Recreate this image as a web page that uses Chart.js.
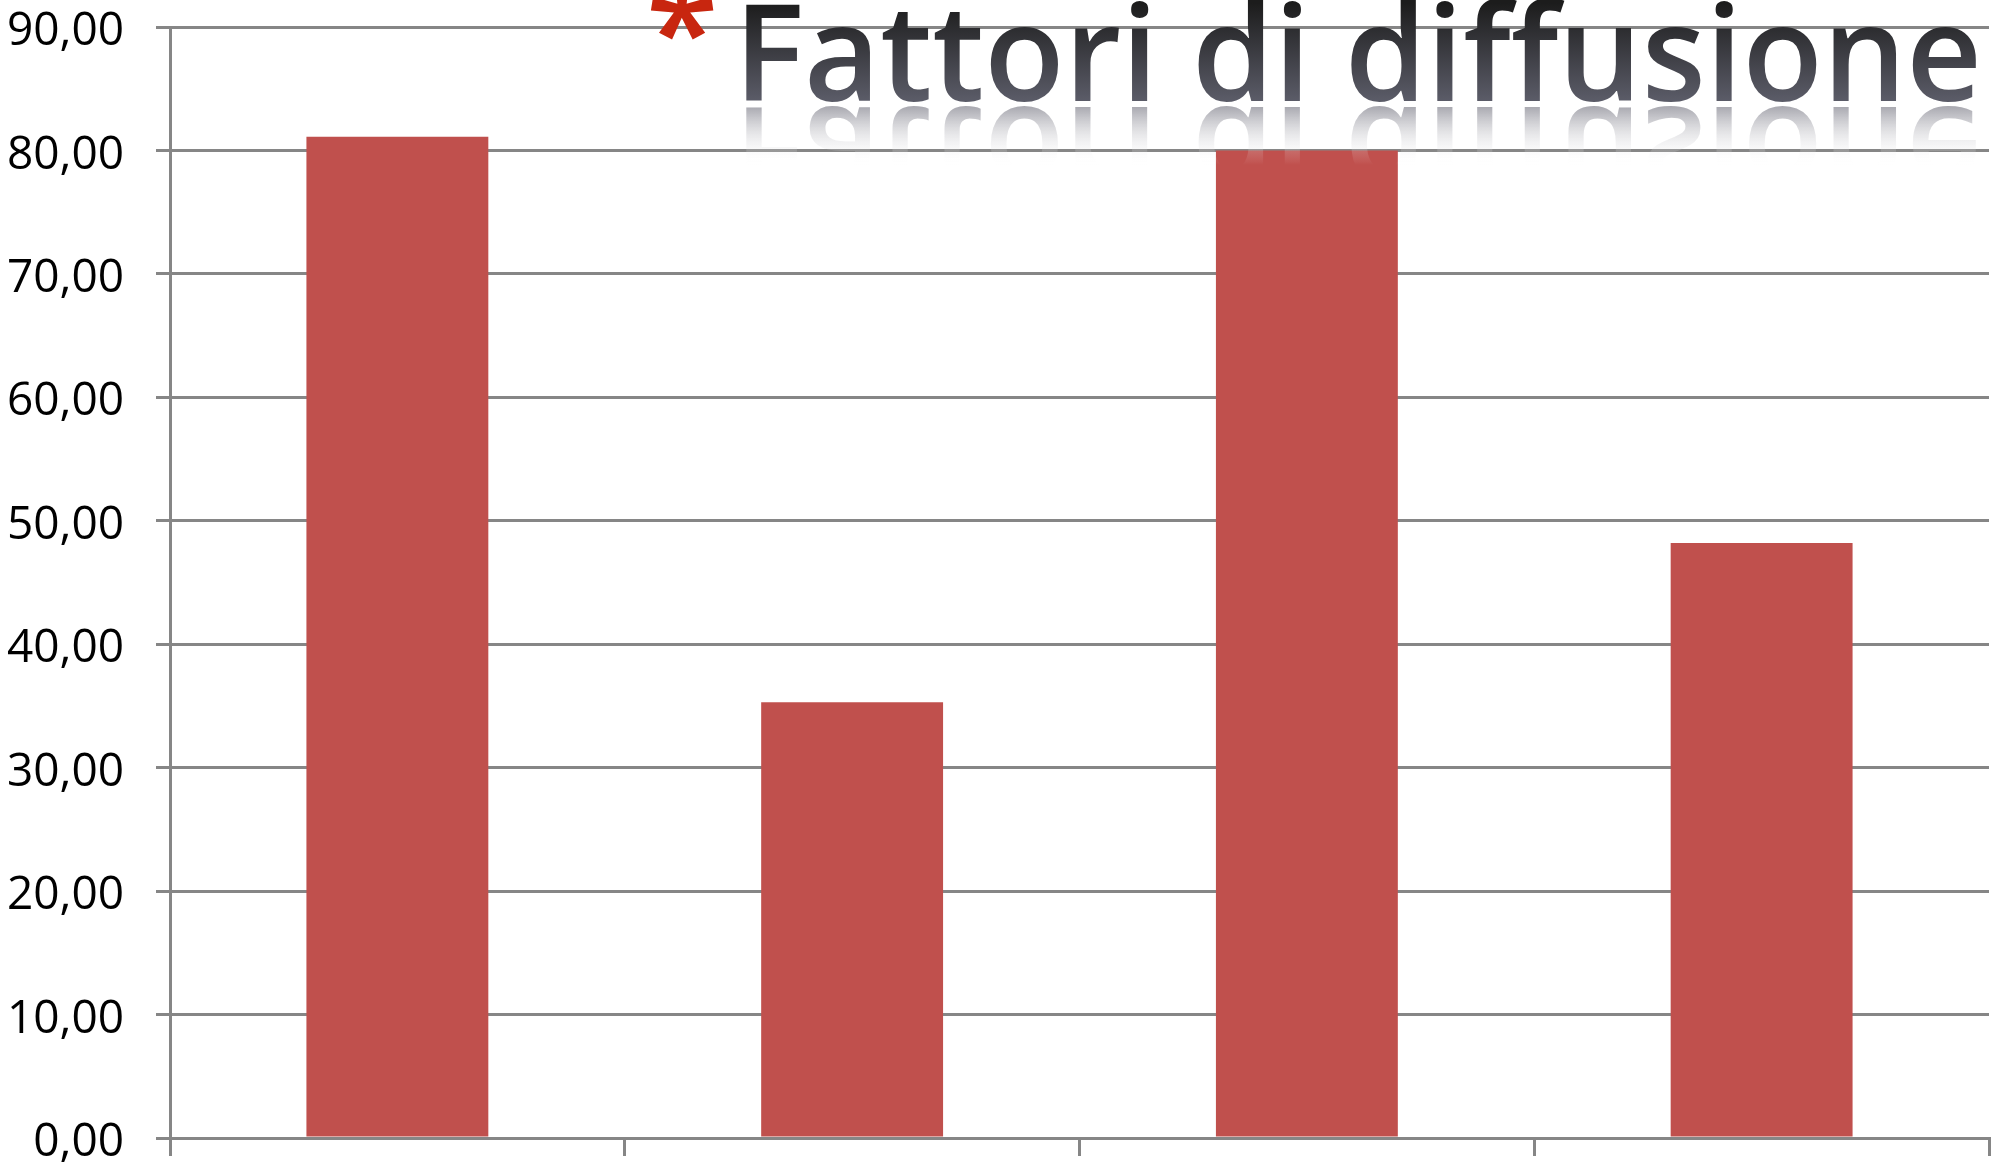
<!DOCTYPE html>
<html lang="it">
<head>
    <meta charset="UTF-8">
    <title>Fattori di diffusione</title>
    <script src="https://cdn.jsdelivr.net/npm/chart.js"></script>
    <style>
        html, body { margin: 0; padding: 0; background: #fff; }
        .wrap { width: 2002px; height: 1171px; position: relative; }
    </style>
</head>
<body>
    <div class="wrap"><canvas id="chart"></canvas></div>
    <script>
        // data
        const categories = ['', '', '', ''];
        const values = [81.1, 35.3, 80.0, 48.2];
        const yMin = 0;
        const yMax = 90;
        const yStep = 10;
        const titleMark = '*';
        const titleText = 'Fattori di diffusione';

        const gridColor = '#868686';

        // big title with reflection, sitting over the top right of the plot
        const titlePlugin = {
            id: 'titleReflect',
            afterDraw(chart) {
                const ctx = chart.ctx;
                const left = 734, right = 1982, baseline = 101;
                ctx.save();
                ctx.font = '600 134px "Open Sans"';
                ctx.textBaseline = 'alphabetic';
                ctx.textAlign = 'left';
                const w = ctx.measureText(titleText).width;
                const sx = (right - left) / w;

                // reflection
                ctx.save();
                ctx.translate(left, baseline + 6);
                ctx.scale(sx, -1);
                const rg = ctx.createLinearGradient(0, 0, 0, -58);
                rg.addColorStop(0, 'rgba(140,140,150,0.75)');
                rg.addColorStop(1, 'rgba(255,255,255,0)');
                ctx.fillStyle = rg;
                ctx.fillText(titleText, 0, 0);
                ctx.restore();

                // main text
                ctx.save();
                ctx.translate(left, baseline);
                ctx.scale(sx, 1);
                const g = ctx.createLinearGradient(0, -98, 0, 0);
                g.addColorStop(0, '#1c1c1c');
                g.addColorStop(1, '#5b5c68');
                ctx.fillStyle = g;
                ctx.fillText(titleText, 0, 0);
                ctx.restore();

                // red asterisk
                ctx.font = '600 132px "Open Sans"';
                ctx.fillStyle = '#c8260f';
                ctx.fillText(titleMark, 646, 80);
                ctx.restore();
            }
        };

        new Chart(document.getElementById('chart'), {
            type: 'bar',
            data: {
                labels: categories,
                datasets: [{
                    data: values,
                    backgroundColor: '#c0504d',
                    borderWidth: 0,
                    categoryPercentage: 1.0,
                    barPercentage: 0.4
                }]
            },
            options: {
                responsive: true,
                maintainAspectRatio: false,
                animation: false,
                layout: { padding: { top: 27, right: 13, left: 0, bottom: 0 } },
                plugins: {
                    legend: { display: false },
                    tooltip: { enabled: false },
                    title: { display: false }
                },
                scales: {
                    x: {
                        offset: true,
                        grid: {
                            offset: true,
                            drawOnChartArea: false,
                            drawTicks: true,
                            tickLength: 18,
                            color: gridColor,
                            lineWidth: 3
                        },
                        border: { color: gridColor, width: 3 },
                        ticks: { display: false },
                        afterFit(scale) {
                            scale.height = 33;
                            scale.paddingLeft = 0;
                            scale.paddingRight = 0;
                        }
                    },
                    y: {
                        min: yMin,
                        max: yMax,
                        grid: {
                            color: gridColor,
                            lineWidth: 3,
                            drawTicks: true,
                            tickLength: 14
                        },
                        border: { color: gridColor, width: 3 },
                        ticks: {
                            stepSize: yStep,
                            padding: 32,
                            labelOffset: 5,
                            color: '#000',
                            font: { family: '"Open Sans"', size: 46 },
                            callback: v => v.toFixed(2).replace('.', ',')
                        },
                        afterFit(scale) {
                            scale.width = 170;
                            scale.paddingTop = 0;
                            scale.paddingBottom = 0;
                        }
                    }
                }
            },
            plugins: [titlePlugin]
        });
    </script>
</body>
</html>
